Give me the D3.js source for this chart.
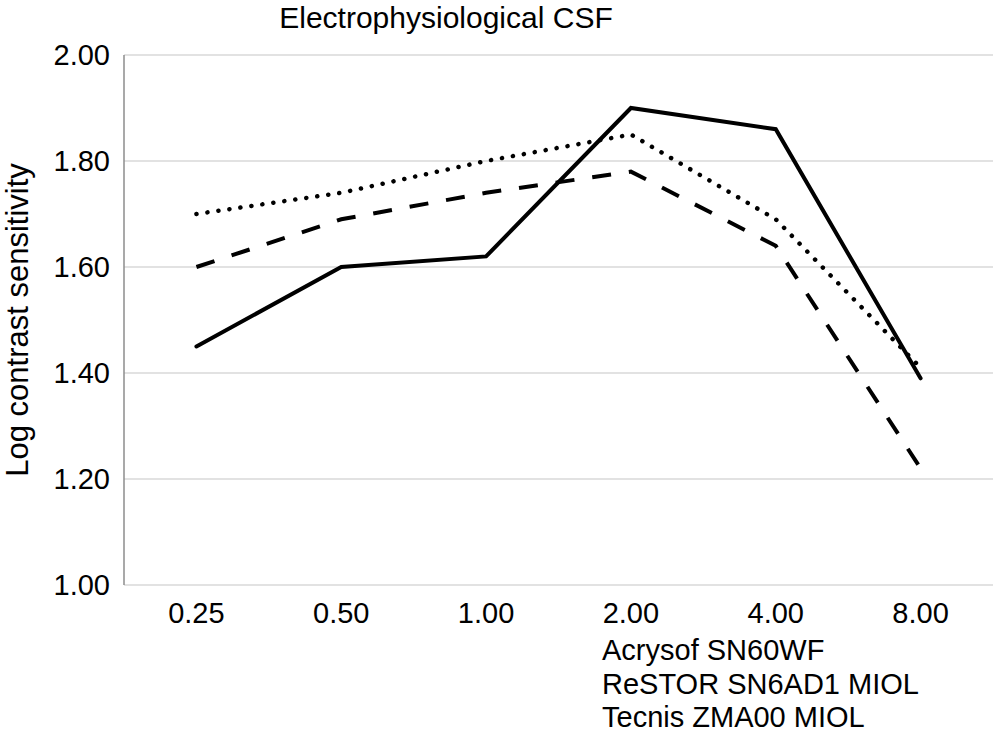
<!DOCTYPE html>
<html>
<head>
<meta charset="utf-8">
<script src="https://cdn.jsdelivr.net/npm/d3@7"></script>
<style>
  html, body { margin: 0; padding: 0; background: #fff; }
  svg { display: block; font-family: "Liberation Sans", Arial, Helvetica, sans-serif; }
</style>
</head>
<body>
<svg id="chart" width="1000" height="736"></svg>
<script>
const title = "Electrophysiological CSF";
const yTitle = "Log contrast sensitivity";
const categories = ["0.25", "0.50", "1.00", "2.00", "4.00", "8.00"];
const yTicks = [1.00, 1.20, 1.40, 1.60, 1.80, 2.00];
const seriesNames = ["Acrysof SN60WF", "ReSTOR SN6AD1 MIOL", "Tecnis ZMA00 MIOL"];
const acrysof = [1.45, 1.60, 1.62, 1.90, 1.86, 1.39];
const restor = [1.60, 1.69, 1.74, 1.78, 1.64, 1.22];
const tecnis = [1.70, 1.74, 1.80, 1.85, 1.69, 1.41];

const series = [
  { name: seriesNames[0], values: acrysof, dash: null, cap: "round" },
  { name: seriesNames[1], values: restor, dash: "19,18", cap: "butt" },
  { name: seriesNames[2], values: tecnis, dash: "0.1,11", cap: "round" }
];

const svg = d3.select("#chart");
const mLeft = 124, mRight = 993, mTop = 55, mBottom = 585;

const x = d3.scalePoint().domain(categories).range([mLeft, mRight]).padding(0.5);
const y = d3.scaleLinear().domain([1, 2]).range([mBottom, mTop]);

// gridlines
svg.append("g").selectAll("line").data(yTicks).join("line")
  .attr("x1", mLeft).attr("x2", mRight)
  .attr("y1", d => y(d)).attr("y2", d => y(d))
  .attr("stroke", "#d9d9d9").attr("stroke-width", 1.5);

// left axis line
svg.append("line")
  .attr("x1", mLeft).attr("x2", mLeft)
  .attr("y1", y(2)).attr("y2", y(1))
  .attr("stroke", "#8c8c8c").attr("stroke-width", 1.5);

// y tick labels
svg.append("g").selectAll("text").data(yTicks).join("text")
  .attr("x", 110).attr("y", d => y(d) + 10)
  .attr("text-anchor", "end")
  .attr("font-size", 29).attr("fill", "#000")
  .text(d => d.toFixed(2));

// x tick labels
svg.append("g").selectAll("text").data(categories).join("text")
  .attr("x", d => x(d)).attr("y", 623)
  .attr("text-anchor", "middle")
  .attr("font-size", 29).attr("fill", "#000")
  .text(d => d);

// y title
svg.append("text")
  .attr("transform", `translate(28,${(mTop + mBottom) / 2}) rotate(-90)`)
  .attr("text-anchor", "middle")
  .attr("font-size", 31).attr("fill", "#000")
  .text(yTitle);

// title
svg.append("text")
  .attr("x", 446).attr("y", 28)
  .attr("text-anchor", "middle")
  .attr("font-size", 30).attr("fill", "#000")
  .text(title);

// lines
const line = d3.line()
  .x((d, i) => x(categories[i]))
  .y(d => y(d));

svg.append("g").selectAll("path").data(series).join("path")
  .attr("d", d => line(d.values))
  .attr("fill", "none")
  .attr("stroke", "#000")
  .attr("stroke-width", d => d.dash === "0.1,11" ? 4.5 : 4)
  .attr("stroke-linecap", d => d.cap)
  .attr("stroke-linejoin", "miter")
  .attr("stroke-dasharray", d => d.dash);

// legend (text only)
svg.append("g").selectAll("text").data(seriesNames).join("text")
  .attr("x", 602).attr("y", (d, i) => 660 + i * 33.5)
  .attr("font-size", 29).attr("fill", "#000")
  .text(d => d);
</script>
</body>
</html>
